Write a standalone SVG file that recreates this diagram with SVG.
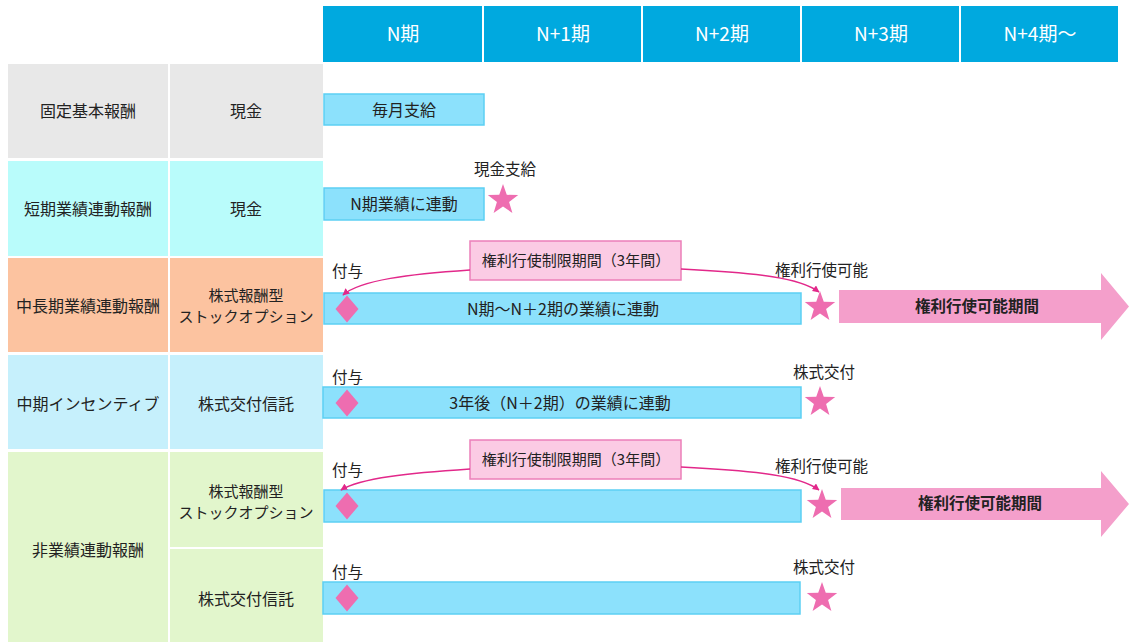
<svg xmlns="http://www.w3.org/2000/svg" width="1129" height="642" viewBox="0 0 1129 642">
<style>
text{font-family:"Noto Sans CJK JP","Noto Sans",sans-serif;font-size:15.5px;fill:#222;}
.hd{fill:#00A9DF;}
.ht{fill:#fff;font-size:19px;text-anchor:middle;}
.c{text-anchor:middle;}
.tb{font-size:16px;fill:#222;}
.sm{font-size:15px;}
.bar{fill:#8CE1FC;stroke:#5CCFF3;stroke-width:1.5;}
.lim{fill:#FBCBE4;stroke:#EC7FB9;stroke-width:1.5;}
.mk{fill:#EE6DB0;}
.big{fill:#F49FCB;}
.b{font-weight:bold;}
.cv{fill:none;stroke:#E2288A;stroke-width:1.5;marker-end:url(#ah);}
</style>
<defs>
<path id="star" d="M0,-16 L3.76,-5.18 L15.22,-4.94 L6.09,1.98 L9.4,12.94 L0,6.4 L-9.4,12.94 L-6.09,1.98 L-15.22,-4.94 L-3.76,-5.18 Z"/>
<path id="dia" d="M0,-13.5 L11.5,0 L0,13.5 L-11.5,0 Z"/>
<marker id="ah" viewBox="0 0 10 10" refX="9" refY="5" markerWidth="7" markerHeight="7" orient="auto" markerUnits="userSpaceOnUse">
<path d="M0,0 L10,5 L0,10 Z" fill="#E2288A"/>
</marker>
</defs>
<rect width="1129" height="642" fill="#fff"/>
<g id="header">
<rect class="hd" x="323" y="6" width="159" height="56"/>
<rect class="hd" x="484" y="6" width="157" height="56"/>
<rect class="hd" x="643" y="6" width="157" height="56"/>
<rect class="hd" x="802" y="6" width="157" height="56"/>
<rect class="hd" x="961" y="6" width="157" height="56"/>
<text class="ht" x="403" y="41">N期</text>
<text class="ht" x="563" y="41">N+1期</text>
<text class="ht" x="722" y="41">N+2期</text>
<text class="ht" x="881" y="41">N+3期</text>
<text class="ht" x="1040" y="41">N+4期～</text>
</g>
<g id="row1">
<rect x="8" y="64" width="160" height="94" fill="#E8E8E8"/>
<rect x="170" y="64" width="153" height="94" fill="#E8E8E8"/>
<text class="c tb" x="88" y="117">固定基本報酬</text>
<text class="c tb" x="246" y="117">現金</text>
</g>
<g id="row2">
<rect x="8" y="161" width="160" height="95" fill="#B9FCFB"/>
<rect x="170" y="161" width="153" height="95" fill="#B9FCFB"/>
<text class="c tb" x="88" y="215">短期業績連動報酬</text>
<text class="c tb" x="246" y="215">現金</text>
</g>
<g id="row3">
<rect x="8" y="258" width="160" height="94" fill="#FCC3A0"/>
<rect x="170" y="258" width="153" height="94" fill="#FCC3A0"/>
<text class="c tb" x="88" y="312">中長期業績連動報酬</text>
<text class="c tb sm" x="246" y="301">株式報酬型</text>
<text class="c tb sm" x="246" y="322">ストックオプション</text>
</g>
<g id="row4">
<rect x="8" y="355" width="160" height="94" fill="#C6F0FC"/>
<rect x="170" y="355" width="153" height="94" fill="#C6F0FC"/>
<text class="c tb" x="88" y="410">中期インセンティブ</text>
<text class="c tb" x="246" y="410">株式交付信託</text>
</g>
<g id="row5">
<rect x="8" y="452" width="160" height="190" fill="#E2F6CC"/>
<rect x="170" y="452" width="153" height="95" fill="#E2F6CC"/>
<rect x="170" y="549" width="153" height="93" fill="#E2F6CC"/>
<text class="c tb" x="88" y="556">非業績連動報酬</text>
<text class="c tb sm" x="246" y="497">株式報酬型</text>
<text class="c tb sm" x="246" y="518">ストックオプション</text>
<text class="c tb" x="246" y="605">株式交付信託</text>
</g>
<g id="fixed-bar">
<rect class="bar" x="324" y="94" width="160" height="31"/>
<text class="c tb" x="404" y="116">毎月支給</text>
</g>
<g id="short-bar">
<rect class="bar" x="324" y="188" width="160" height="32"/>
<text class="c tb" x="404" y="210">N期業績に連動</text>
<use href="#star" class="mk" x="503" y="200"/>
<text x="474" y="175">現金支給</text>
</g>
<g id="mid-option">
<rect class="bar" x="324" y="293" width="477" height="31"/>
<text class="c tb" x="563" y="315">N期～N＋2期の業績に連動</text>
<use href="#dia" class="mk" x="347" y="309"/>
<text x="332" y="277">付与</text>
<rect class="lim" x="470" y="241" width="211" height="39"/>
<text class="c sm" x="576" y="266">権利行使制限期間（3年間）</text>
<use href="#star" class="mk" x="820" y="307"/>
<text x="775" y="276">権利行使可能</text>
<path class="big" d="M839,290 H1101 V273 L1129,306.5 L1101,340 V323 H839 Z"/>
<text class="c b" x="977" y="312">権利行使可能期間</text>
</g>
<g id="mid-trust">
<rect class="bar" x="323" y="387" width="478" height="31"/>
<text class="c tb" x="560" y="409">3年後（N＋2期）の業績に連動</text>
<use href="#dia" class="mk" x="347" y="403"/>
<text x="332" y="383">付与</text>
<use href="#star" class="mk" x="820" y="402"/>
<text x="793" y="378">株式交付</text>
</g>
<g id="non-option">
<rect class="bar" x="324" y="490" width="477" height="32"/>
<use href="#dia" class="mk" x="347" y="506"/>
<text x="332" y="476">付与</text>
<rect class="lim" x="470" y="440" width="211" height="39"/>
<text class="c sm" x="576" y="465">権利行使制限期間（3年間）</text>
<use href="#star" class="mk" x="822" y="505"/>
<text x="775" y="472">権利行使可能</text>
<path class="big" d="M841,488 H1101 V471 L1129,504 L1101,537 V520 H841 Z"/>
<text class="c b" x="980" y="509">権利行使可能期間</text>
</g>
<g id="non-trust">
<rect class="bar" x="323" y="582" width="477" height="32"/>
<use href="#dia" class="mk" x="347" y="598"/>
<text x="332" y="578">付与</text>
<use href="#star" class="mk" x="822" y="598"/>
<text x="793" y="573">株式交付</text>
</g>
<g id="connectors">
<path class="cv" d="M470,270 C410,274 360,280 343,295"/>
<path class="cv" d="M681,269 C760,273 800,278 819,292"/>
<path class="cv" d="M470,469 C410,473 360,478 341,490"/>
<path class="cv" d="M681,467 C760,471 800,476 819,490"/>
</g>
</svg>
